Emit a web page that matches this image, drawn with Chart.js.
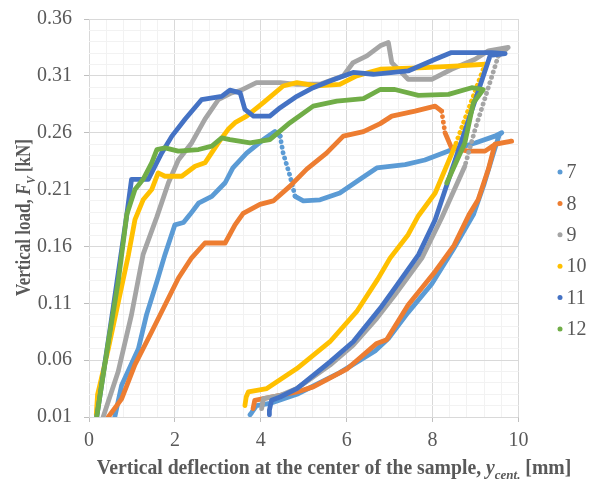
<!DOCTYPE html>
<html><head><meta charset="utf-8">
<script src="https://cdn.jsdelivr.net/npm/chart.js@4.4.1/dist/chart.umd.min.js"></script>
<style>html,body{margin:0;padding:0;background:#fff}#wrap{width:593px;height:484px;position:relative}</style>
</head><body><div id="wrap"><canvas id="c" width="593" height="484"></canvas></div>
<script>
const seriesNames = ['7','8','9','10','11','12'];
const seriesColors = ['#5B9BD5','#ED7D31','#A5A5A5','#FFC000','#4472C4','#70AD47'];
const xTickLabels = ['0','2','4','6','8','10'];
const yTickLabels = ['0.01','0.06','0.11','0.16','0.21','0.26','0.31','0.36'];

const x7 = [0.60,0.76,1.15,1.34,1.58,1.77,2.00,2.20,2.35,2.55,2.86,3.17,3.35,3.67,4.06,4.33,4.45,4.52,4.68,4.80,4.99,5.38,5.84,6.31,6.70,7.36,7.82,8.37,8.99,9.45,9.61,9.55,9.40,9.20,8.95,8.49,7.98,7.43,6.97,6.66,5.84,4.84,4.21,3.90,3.79,3.75];
const y7 = [0.010,0.038,0.070,0.100,0.129,0.153,0.179,0.181,0.188,0.198,0.204,0.216,0.229,0.242,0.254,0.261,0.257,0.242,0.222,0.204,0.200,0.201,0.207,0.219,0.229,0.232,0.236,0.244,0.251,0.257,0.260,0.258,0.240,0.215,0.188,0.158,0.127,0.102,0.079,0.068,0.049,0.030,0.022,0.020,0.014,0.012];

const x8 = [0.45,0.76,1.07,1.46,1.77,2.08,2.39,2.70,3.17,3.40,3.59,3.98,4.29,4.68,5.07,5.53,5.92,6.39,6.78,7.05,7.59,8.06,8.21,8.29,8.44,8.83,9.22,9.45,9.84,9.45,9.30,9.06,8.85,8.50,8.06,7.43,6.93,6.70,6.00,5.22,4.84,4.06,3.86,3.82];
const y8 = [0.010,0.026,0.056,0.085,0.1085,0.132,0.150,0.163,0.163,0.179,0.189,0.197,0.200,0.213,0.228,0.242,0.257,0.261,0.268,0.2746,0.279,0.2834,0.279,0.260,0.2467,0.2438,0.2438,0.2497,0.2526,0.250,0.228,0.201,0.188,0.161,0.138,0.1085,0.078,0.0747,0.052,0.0365,0.032,0.0262,0.0247,0.0174];

const x9 = [0.33,0.68,0.99,1.26,1.58,1.85,2.08,2.39,2.70,3.01,3.32,3.52,3.90,4.45,4.84,5.38,5.92,6.15,6.47,6.78,6.97,7.05,7.43,7.98,8.44,8.99,9.30,9.76,9.53,8.99,8.75,8.21,7.75,7.12,6.70,6.15,5.61,4.84,4.45,4.06,4.02];
const y9 = [0.010,0.050,0.100,0.153,0.186,0.216,0.236,0.251,0.272,0.289,0.295,0.297,0.304,0.304,0.3026,0.3026,0.310,0.3217,0.3275,0.3364,0.3393,0.3217,0.307,0.307,0.3158,0.3246,0.332,0.335,0.3275,0.263,0.2305,0.185,0.1497,0.1173,0.0968,0.0732,0.0556,0.035,0.029,0.0262,0.0174];

const x10 = [0.17,0.20,0.24,0.45,0.92,1.07,1.26,1.46,1.61,1.77,2.16,2.47,2.70,3.01,3.24,3.40,3.67,4.06,4.52,4.84,5.30,5.84,6.23,6.78,7.82,8.60,9.22,8.52,8.06,7.67,7.43,7.01,6.72,6.23,5.61,4.84,4.14,3.71,3.66,3.63];
const y10 = [0.012,0.030,0.036,0.070,0.153,0.1835,0.201,0.210,0.2247,0.2217,0.2217,0.2305,0.2335,0.251,0.263,0.2688,0.2746,0.2864,0.3011,0.304,0.3011,0.3026,0.310,0.3158,0.3173,0.3187,0.3202,0.2482,0.207,0.187,0.1703,0.1497,0.131,0.1026,0.0762,0.0526,0.035,0.032,0.0276,0.020];

const x11 = [0.18,0.50,0.88,0.99,1.38,1.69,1.93,2.24,2.62,3.09,3.28,3.52,3.63,3.83,4.21,4.45,4.84,5.22,5.61,6.15,6.62,7.43,8.06,8.44,9.38,9.69,9.34,8.06,7.67,7.12,6.78,6.15,5.61,4.84,4.45,4.25,4.20,4.20];
const y11 = [0.010,0.090,0.188,0.219,0.219,0.242,0.257,0.272,0.289,0.292,0.2975,0.295,0.2805,0.2746,0.2746,0.282,0.292,0.2996,0.3055,0.313,0.3114,0.3143,0.3246,0.3305,0.3305,0.3296,0.328,0.1835,0.1526,0.1233,0.1056,0.0762,0.0585,0.035,0.0276,0.0247,0.016,0.012];

const x12 = [0.18,0.45,0.68,0.88,1.07,1.26,1.46,1.58,1.77,2.08,2.55,2.86,3.09,3.28,3.75,4.21,4.68,5.22,5.77,6.39,6.78,7.12,7.67,8.37,8.91,9.18,8.95,8.75,8.33];
const y12 = [0.010,0.076,0.129,0.188,0.210,0.219,0.2335,0.2452,0.2467,0.2438,0.2452,0.2482,0.2555,0.254,0.251,0.254,0.2688,0.2834,0.2878,0.2899,0.298,0.298,0.2929,0.2937,0.2996,0.298,0.2864,0.251,0.2158];

const xs = [x7,x8,x9,x10,x11,x12];
const ys = [y7,y8,y9,y10,y11,y12];
// segments (by start index) drawn as a dotted marker trail
const dottedRuns = [[16,17,18],[22],[28,29],[26],[],[]];

const FONT = "'Liberation Serif','Times New Roman',serif";
const TXT = '#595959';

function near(a,b){return Math.abs(a-b)<1e-6;}
function isMajorX(v){return near(v/2, Math.round(v/2));}
function isMajorY(v){return near((v-0.01)/0.05, Math.round((v-0.01)/0.05));}

function drawRich(ctx, parts, size){
  let w = 0;
  const m = parts.map(p=>{
    const s = p.sub ? size*0.66 : size;
    ctx.font = (p.italic?'italic ':'') + 'bold ' + s + 'px ' + FONT;
    const pw = ctx.measureText(p.t).width;
    w += pw; return {p, s, pw};
  });
  let x = -w/2;
  m.forEach(({p,s,pw})=>{
    ctx.font = (p.italic?'italic ':'') + 'bold ' + s + 'px ' + FONT;
    ctx.fillText(p.t, x, p.sub ? size*0.26 : 0);
    x += pw;
  });
}

const decor = {
  id:'decor',
  afterDraw(chart){
    const ctx = chart.ctx;
    ctx.save();
    ctx.fillStyle = TXT;
    ctx.textBaseline = 'alphabetic';
    ctx.textAlign = 'left';
    ctx.save();
    ctx.translate(334, 473.5);
    ctx.scale(0.985, 1);
    drawRich(ctx, [{t:'Vertical deflection at the center of the sample, '},{t:'y',italic:true},{t:'cent.',italic:true,sub:true},{t:' [mm]'}], 20);
    ctx.restore();
    ctx.save();
    ctx.translate(30, 217.5);
    ctx.rotate(-Math.PI/2);
    ctx.scale(0.85, 1);
    drawRich(ctx, [{t:'Vertical load, '},{t:'F',italic:true},{t:'V',italic:true,sub:true},{t:' [kN]'}], 20);
    ctx.restore();
    seriesNames.forEach((n,i)=>{
      const cy = 172 + i*31.4;
      ctx.beginPath();
      ctx.fillStyle = seriesColors[i];
      ctx.arc(560, cy, 2.5, 0, Math.PI*2);
      ctx.fill();
      ctx.fillStyle = TXT;
      ctx.font = '20px ' + FONT;
      ctx.textBaseline = 'middle';
      ctx.fillText(n, 566.5, cy+1);
    });
    ctx.restore();
  }
};

const datasets = seriesNames.map((n,i)=>({
  label: n,
  data: xs[i].map((x,j)=>({x, y: ys[i][j]})),
  showLine: true,
  borderColor: seriesColors[i],
  backgroundColor: seriesColors[i],
  borderWidth: 4.8,
  borderCapStyle: 'round',
  borderJoinStyle: 'round',
  pointRadius: 0,
  tension: 0,
  order: 5 - i,
  segment: {
    borderDash: c => dottedRuns[i].includes(c.p0DataIndex) ? [0.1, 5.5] : undefined
  }
}));

new Chart(document.getElementById('c'), {
  type: 'scatter',
  data: {datasets},
  options: {
    responsive: false,
    animation: false,
    events: [],
    layout: {padding: {top: 19, right: 74.5, left: 0, bottom: 0}},
    plugins: {legend: {display: false}, tooltip: {enabled: false}},
    scales: {
      x: {
        type: 'linear', min: 0, max: 10,
        afterFit(s){ s.height = 67; s.paddingLeft = 0; s.paddingRight = 0; },
        border: {display: false},
        grid: {drawTicks: true, tickLength: 5,
          tickColor: c => isMajorX(c.tick.value) ? '#BFBFBF' : 'rgba(0,0,0,0)',
          color: c => isMajorX(c.tick.value) ? '#D9D9D9' : '#F2F2F2', lineWidth: 1},
        ticks: {stepSize: 0.4, autoSkip: false, maxRotation: 0, padding: 7, color: TXT, font: {family: FONT, size: 20},
          callback: v => isMajorX(v) ? xTickLabels[Math.round(v/2)] : ''}
      },
      y: {
        type: 'linear', min: 0.01, max: 0.36,
        afterFit(s){ s.width = 89; s.paddingTop = 0; s.paddingBottom = 0; },
        border: {display: false},
        grid: {drawTicks: true, tickLength: 5,
          tickColor: c => isMajorY(c.tick.value) ? '#BFBFBF' : 'rgba(0,0,0,0)',
          color: c => isMajorY(c.tick.value) ? '#D9D9D9' : '#F2F2F2', lineWidth: 1},
        ticks: {stepSize: 0.01, autoSkip: false, padding: 12, color: TXT, font: {family: FONT, size: 20},
          callback: v => isMajorY(v) ? yTickLabels[Math.round((v-0.01)/0.05)] : ''}
      }
    }
  },
  plugins: [decor]
});
</script></body></html>
